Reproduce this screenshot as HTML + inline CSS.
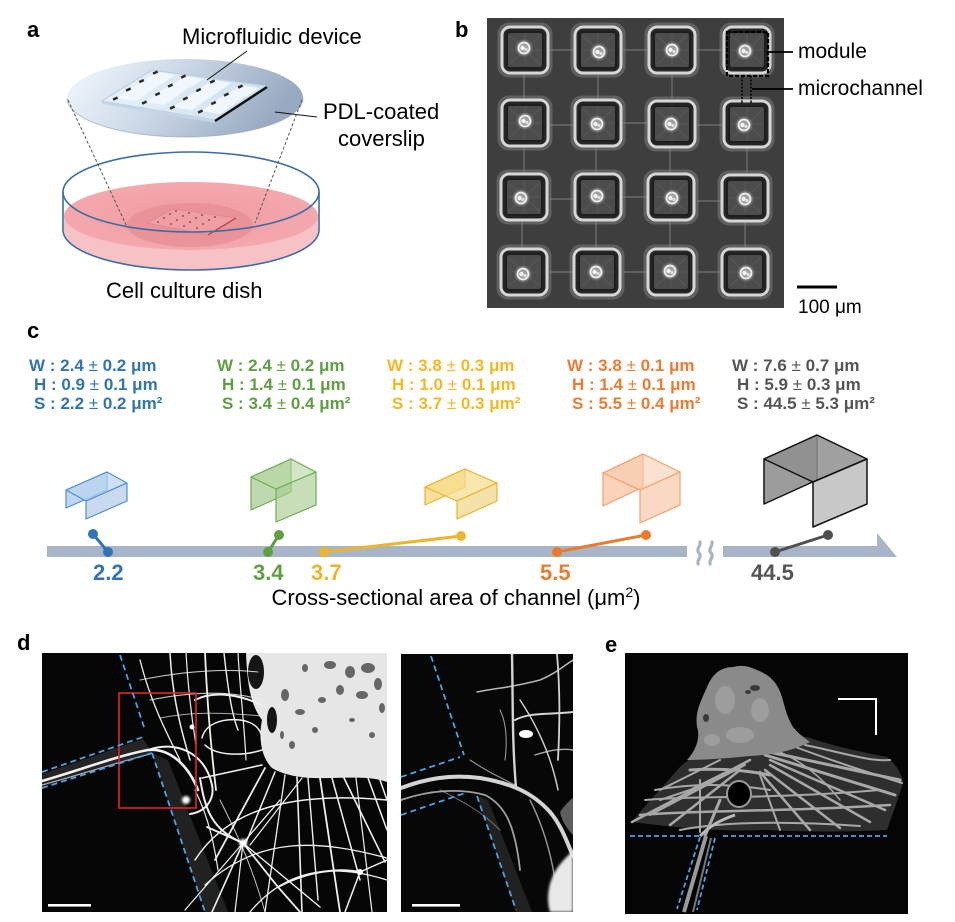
<!DOCTYPE html>
<html><head><meta charset="utf-8">
<style>
html,body{margin:0;padding:0;background:#fff;}
svg{display:block;}
text{font-family:"Liberation Sans",Arial,sans-serif;}
</style></head><body>
<svg width="955" height="922" viewBox="0 0 955 922" xmlns="http://www.w3.org/2000/svg">
<defs>
 <linearGradient id="cs" x1="0" y1="0" x2="1" y2="0.25">
  <stop offset="0" stop-color="#f4f9fe"/>
  <stop offset="0.45" stop-color="#cfdbe9"/>
  <stop offset="1" stop-color="#98a9c1"/>
 </linearGradient>
 <linearGradient id="dev" x1="0" y1="0" x2="1" y2="0">
  <stop offset="0" stop-color="#e6f1fa"/>
  <stop offset="1" stop-color="#cfe0ee"/>
 </linearGradient>
 <radialGradient id="pinkS" cx="0.5" cy="0.5" r="0.6">
  <stop offset="0" stop-color="#f09aa0"/>
  <stop offset="1" stop-color="#f4abb0"/>
 </radialGradient>
 <clipPath id="cb"><rect x="487" y="18" width="297" height="290"/></clipPath>
 <clipPath id="cd1"><rect x="42" y="653" width="345" height="259"/></clipPath>
 <clipPath id="cd2"><rect x="401" y="654" width="172" height="258"/></clipPath>
 <clipPath id="ce"><rect x="625" y="653" width="283" height="261"/></clipPath>
 <filter id="bl1" x="-50%" y="-50%" width="200%" height="200%"><feGaussianBlur stdDeviation="1.2"/></filter>
 <filter id="bl05" x="-50%" y="-50%" width="200%" height="200%"><feGaussianBlur stdDeviation="0.7"/></filter>
 <g id="mod">
  <rect x="-26" y="-26" width="52" height="52" rx="10" fill="none" stroke="#8a8a8a" stroke-width="3" opacity=".45"/>
  <rect x="-23" y="-23" width="46" height="46" rx="8" fill="#262626" stroke="#d6d6d6" stroke-width="3"/>
  <rect x="-18" y="-18" width="36" height="36" rx="3" fill="#4c4c4c" stroke="#1e1e1e" stroke-width="2"/>
  <g stroke="#666" stroke-width="0.7" opacity=".7">
   <line x1="0" y1="0" x2="-15" y2="-14"/><line x1="0" y1="0" x2="15" y2="-14"/>
   <line x1="0" y1="0" x2="-15" y2="14"/><line x1="0" y1="0" x2="15" y2="14"/>
   <line x1="0" y1="0" x2="0" y2="-16"/><line x1="0" y1="0" x2="16" y2="0"/>
   <line x1="0" y1="0" x2="-16" y2="0"/><line x1="0" y1="0" x2="0" y2="16"/>
  </g>
 </g>
 <g id="cell">
  <circle r="8" fill="#7e7e7e" filter="url(#bl05)"/>
  <circle r="5.5" fill="#b8b8b8" opacity=".6"/>
  <circle r="5.5" fill="none" stroke="#eeeeee" stroke-width="1.8"/>
  <circle cx="-1.5" cy="0" r="2.2" fill="#f4f4f4"/>
  <circle cx="2" cy="1.5" r="1.6" fill="#e0e0e0"/>
 </g>
</defs>

<rect width="955" height="922" fill="#ffffff"/>

<!-- ================= PANEL A ================= -->
<text x="27" y="37" font-size="22" font-weight="bold">a</text>
<text x="182" y="44" font-size="22">Microfluidic device</text>
<text x="323" y="119" font-size="22">PDL-coated</text>
<text x="338" y="146" font-size="22">coverslip</text>
<text x="106" y="298" font-size="22">Cell culture dish</text>

<ellipse cx="185" cy="98" rx="118" ry="39" fill="url(#cs)"/>
<path d="M67,98 A118,39 0 0 0 303,98" fill="none" stroke="#8e9fb6" stroke-width="1" opacity=".6"/>
<polygon points="102,101 152,70 267,86 215,120" fill="url(#dev)" stroke="#b9cde0" stroke-width="1"/>
<polygon points="102,101 215,120 215,123 102,104" fill="#c4d6e6"/>
<g fill="#f4f9fd" opacity=".9">
 <polygon points="117,98 131,89 149,92 136,101"/><polygon points="145,102 159,93 177,96 164,105"/>
 <polygon points="173,107 187,98 205,101 192,110"/><polygon points="201,111 215,102 233,105 220,114"/>
 <polygon points="130,89 144,80 162,83 149,92"/><polygon points="158,93 172,84 190,87 177,96"/>
 <polygon points="186,98 200,89 218,92 205,101"/><polygon points="214,102 228,93 246,96 233,105"/>
 <polygon points="143,81 157,72 175,75 162,84"/><polygon points="171,85 185,76 203,79 190,88"/>
 <polygon points="199,89 213,80 231,83 218,92"/><polygon points="227,94 241,85 259,88 246,97"/>
</g>
<g fill="#2a2a2a">
 <rect x="113" y="97.5" width="5" height="2.5" transform="rotate(-25 115 99)"/>
 <rect x="142" y="101.5" width="5" height="2.5" transform="rotate(-25 144 103)"/>
 <rect x="170" y="106.5" width="5" height="2.5" transform="rotate(-25 172 108)"/>
 <rect x="198" y="110.5" width="5" height="2.5" transform="rotate(-25 200 112)"/>
 <rect x="126" y="88.5" width="5" height="2.5" transform="rotate(-25 128 90)"/>
 <rect x="155" y="93" width="5" height="2.5" transform="rotate(-25 157 94)"/>
 <rect x="183" y="97.5" width="5" height="2.5" transform="rotate(-25 185 99)"/>
 <rect x="211" y="102" width="5" height="2.5" transform="rotate(-25 213 103)"/>
 <rect x="139" y="80" width="5" height="2.5" transform="rotate(-25 141 81)"/>
 <rect x="168" y="84.5" width="5" height="2.5" transform="rotate(-25 170 86)"/>
 <rect x="196" y="89" width="5" height="2.5" transform="rotate(-25 198 90)"/>
 <rect x="224" y="93.5" width="5" height="2.5" transform="rotate(-25 226 95)"/>
 <rect x="153" y="71.5" width="5" height="2.5" transform="rotate(-25 155 73)"/>
 <rect x="181" y="75.5" width="5" height="2.5" transform="rotate(-25 183 77)"/>
 <rect x="210" y="80.5" width="5" height="2.5" transform="rotate(-25 212 82)"/>
 <rect x="238" y="85.5" width="5" height="2.5" transform="rotate(-25 240 87)"/>
</g>
<line x1="215" y1="121" x2="267" y2="87" stroke="#111" stroke-width="2.5"/>
<line x1="247" y1="51" x2="207" y2="80" stroke="#111" stroke-width="1"/>
<line x1="275" y1="112" x2="317" y2="117" stroke="#111" stroke-width="1"/>

<path d="M64,216 L64,230 A127,40 0 0 0 318,230 L318,216 A127,34 0 0 1 64,216 Z" fill="#f6c2c5"/>
<ellipse cx="191" cy="216" rx="127" ry="34" fill="url(#pinkS)"/>
<ellipse cx="190" cy="225" rx="63" ry="22" fill="#e68d94" opacity=".75"/>
<polygon points="147,223 173,209 236,218 208,235" fill="#ef9fa4" stroke="#d98087" stroke-width="0.6"/>
<g fill="#a84a52">
 <circle cx="158" cy="222" r="1"/><circle cx="171" cy="224" r="1"/><circle cx="184" cy="226" r="1"/><circle cx="197" cy="228" r="1"/>
 <circle cx="164" cy="218" r="1"/><circle cx="177" cy="220" r="1"/><circle cx="190" cy="222" r="1"/><circle cx="203" cy="224" r="1"/>
 <circle cx="170" cy="214" r="1"/><circle cx="183" cy="216" r="1"/><circle cx="196" cy="218" r="1"/><circle cx="209" cy="220" r="1"/>
 <circle cx="176" cy="211" r="1"/><circle cx="189" cy="213" r="1"/><circle cx="202" cy="215" r="1"/><circle cx="215" cy="217" r="1"/>
</g>
<line x1="208" y1="235" x2="236" y2="218" stroke="#b0404a" stroke-width="1.3"/>
<ellipse cx="191" cy="192" rx="128" ry="40" fill="none" stroke="#3a6ca6" stroke-width="1.6"/>
<line x1="63" y1="192" x2="63" y2="230" stroke="#3a6ca6" stroke-width="1.6"/>
<line x1="319" y1="192" x2="319" y2="230" stroke="#3a6ca6" stroke-width="1.6"/>
<path d="M63,230 A128,40 0 0 0 319,230" fill="none" stroke="#3a6ca6" stroke-width="1.6"/>
<line x1="68" y1="100" x2="127" y2="227" stroke="#555" stroke-width="1" stroke-dasharray="3,2"/>
<line x1="302" y1="100" x2="255" y2="223" stroke="#555" stroke-width="1" stroke-dasharray="3,2"/>

<!-- ================= PANEL B ================= -->
<text x="455" y="37" font-size="22" font-weight="bold">b</text>
<g clip-path="url(#cb)">
 <rect x="487" y="18" width="297" height="290" fill="#3e3e3e"/>
 <g stroke="#a0a0a0" stroke-width="1" opacity=".65">
  <line x1="550" y1="50" x2="573" y2="50"/><line x1="623" y1="50" x2="647" y2="50"/><line x1="697" y1="50" x2="722" y2="50"/>
  <line x1="550" y1="125" x2="573" y2="125"/><line x1="623" y1="123" x2="647" y2="123"/><line x1="697" y1="125" x2="722" y2="125"/>
  <line x1="550" y1="199" x2="573" y2="199"/><line x1="623" y1="197" x2="647" y2="197"/><line x1="697" y1="201" x2="722" y2="201"/>
  <line x1="550" y1="272" x2="573" y2="272"/><line x1="623" y1="272" x2="647" y2="272"/><line x1="697" y1="272" x2="722" y2="272"/>
  <line x1="524" y1="75" x2="524" y2="98"/><line x1="598" y1="75" x2="598" y2="98"/><line x1="672" y1="75" x2="672" y2="98"/>
  <line x1="524" y1="148" x2="524" y2="172"/><line x1="596" y1="148" x2="596" y2="172"/><line x1="670" y1="148" x2="670" y2="172"/><line x1="747" y1="148" x2="747" y2="172"/>
  <line x1="522" y1="222" x2="522" y2="247"/><line x1="596" y1="222" x2="596" y2="247"/><line x1="670" y1="222" x2="670" y2="247"/><line x1="745" y1="222" x2="745" y2="247"/>
 </g>
 <use href="#mod" x="525" y="50"/><use href="#mod" x="598" y="50"/><use href="#mod" x="672" y="50"/><use href="#mod" x="747" y="50"/>
 <use href="#mod" x="525" y="123"/><use href="#mod" x="598" y="123"/><use href="#mod" x="672" y="124"/><use href="#mod" x="747" y="124"/>
 <use href="#mod" x="524" y="197"/><use href="#mod" x="598" y="197"/><use href="#mod" x="671" y="197"/><use href="#mod" x="745" y="198"/>
 <use href="#mod" x="524" y="272"/><use href="#mod" x="597" y="272"/><use href="#mod" x="671" y="272"/><use href="#mod" x="745" y="272"/>
 <use href="#cell" x="524" y="48"/><use href="#cell" x="599" y="52"/><use href="#cell" x="672" y="50"/><use href="#cell" x="745" y="51"/>
 <use href="#cell" x="525" y="121"/><use href="#cell" x="597" y="124"/><use href="#cell" x="671" y="124"/><use href="#cell" x="744" y="125"/>
 <use href="#cell" x="521" y="198"/><use href="#cell" x="597" y="196"/><use href="#cell" x="672" y="198"/><use href="#cell" x="745" y="199"/>
 <use href="#cell" x="523" y="274"/><use href="#cell" x="596" y="272"/><use href="#cell" x="670" y="271"/><use href="#cell" x="746" y="273"/>
</g>
<rect x="727" y="32" width="41" height="44" fill="none" stroke="#000" stroke-width="2.2" stroke-dasharray="4,2"/>
<line x1="742" y1="76" x2="742" y2="103" stroke="#000" stroke-width="1.5" stroke-dasharray="2,1.5"/>
<line x1="751" y1="76" x2="751" y2="103" stroke="#000" stroke-width="1.5" stroke-dasharray="2,1.5"/>
<line x1="768" y1="52" x2="793" y2="52" stroke="#000" stroke-width="1.8"/>
<line x1="752" y1="89" x2="793" y2="89" stroke="#000" stroke-width="1.8"/>
<text x="798" y="58" font-size="21">module</text>
<text x="798" y="95" font-size="21">microchannel</text>
<rect x="797" y="285.5" width="40" height="3" fill="#000"/>
<text x="798" y="313" font-size="19">100 μm</text>

<!-- ================= PANEL C ================= -->
<text x="27" y="338" font-size="22" font-weight="bold">c</text>
<g font-size="17" font-weight="bold">
 <g fill="#2f74b5">
  <text x="29" y="371">W : 2.4 <tspan font-weight="normal">±</tspan> 0.2 μm</text>
  <text x="34" y="390">H : 0.9 <tspan font-weight="normal">±</tspan> 0.1 μm</text>
  <text x="34" y="409">S : 2.2 <tspan font-weight="normal">±</tspan> 0.2 μm²</text>
 </g>
 <g fill="#5e9f3f">
  <text x="217" y="371">W : 2.4 <tspan font-weight="normal">±</tspan> 0.2 μm</text>
  <text x="222" y="390">H : 1.4 <tspan font-weight="normal">±</tspan> 0.1 μm</text>
  <text x="222" y="409">S : 3.4 <tspan font-weight="normal">±</tspan> 0.4 μm²</text>
 </g>
 <g fill="#f6b820">
  <text x="387" y="371">W : 3.8 <tspan font-weight="normal">±</tspan> 0.3 μm</text>
  <text x="392" y="390">H : 1.0 <tspan font-weight="normal">±</tspan> 0.1 μm</text>
  <text x="392" y="409">S : 3.7 <tspan font-weight="normal">±</tspan> 0.3 μm²</text>
 </g>
 <g fill="#ef7a32">
  <text x="567" y="371">W : 3.8 <tspan font-weight="normal">±</tspan> 0.1 μm</text>
  <text x="572" y="390">H : 1.4 <tspan font-weight="normal">±</tspan> 0.1 μm</text>
  <text x="572" y="409">S : 5.5 <tspan font-weight="normal">±</tspan> 0.4 μm²</text>
 </g>
 <g fill="#555555">
  <text x="732" y="371">W : 7.6 <tspan font-weight="normal">±</tspan> 0.7 μm</text>
  <text x="737" y="390">H : 5.9 <tspan font-weight="normal">±</tspan> 0.3 μm</text>
  <text x="737" y="409">S : 44.5 <tspan font-weight="normal">±</tspan> 5.3 μm²</text>
 </g>
</g>

<g stroke="#4f8fd4" stroke-width="1.2" stroke-linejoin="round">
 <polygon points="66,490 107,472 107,490 66,508" fill="#8db3e0" fill-opacity=".55"/>
 <polygon points="66,490 107,472 127,483 86,501" fill="#b9d4ef" fill-opacity=".7"/>
 <polygon points="86,501 127,483 127,501 86,519" fill="#a6c2e3" fill-opacity=".6"/>
</g>
<g stroke="#6eae52" stroke-width="1.2" stroke-linejoin="round">
 <polygon points="251,477 291,459 291,492 251,510" fill="#93c079" fill-opacity=".6"/>
 <polygon points="251,477 291,459 316,472 276,489" fill="#b6d6a2" fill-opacity=".6"/>
 <polygon points="276,489 316,472 316,505 276,522" fill="#a9cc93" fill-opacity=".65"/>
</g>
<g stroke="#e9b52d" stroke-width="1.2" stroke-linejoin="round">
 <polygon points="425,487 465,469 465,487 425,505" fill="#f1cc5c" fill-opacity=".6"/>
 <polygon points="425,487 465,469 497,483 457,501" fill="#f8dd8a" fill-opacity=".7"/>
 <polygon points="457,501 497,483 497,501 457,519" fill="#f0d27a" fill-opacity=".65"/>
</g>
<g stroke="#f4a06e" stroke-width="1.2" stroke-linejoin="round">
 <polygon points="603,473 643,454 643,487 603,506" fill="#f6b58c" fill-opacity=".6"/>
 <polygon points="603,473 643,454 680,472 640,490" fill="#f9cdb0" fill-opacity=".6"/>
 <polygon points="640,490 680,472 680,505 640,523" fill="#f8c5a4" fill-opacity=".65"/>
</g>
<g stroke="#111" stroke-width="1.5" stroke-linejoin="round">
 <polygon points="764,459 817,435 817,480 764,504" fill="#9c9c9c"/>
 <polygon points="764,459 817,435 867,459 813,482" fill="#8f8f8f" fill-opacity=".85"/>
 <polygon points="813,482 867,459 867,504 813,527" fill="#c8c8c8"/>
</g>

<rect x="47" y="546" width="640" height="11" fill="#a8b4c7"/>
<polygon points="723,546 877,546 877,533 897,557 723,557" fill="#a8b4c7"/>
<path d="M699,541 c4,3 -4,8 0,12 c4,4 -4,8 0,12" fill="none" stroke="#a8b4c7" stroke-width="3.2"/>
<path d="M711,541 c4,3 -4,8 0,12 c4,4 -4,8 0,12" fill="none" stroke="#a8b4c7" stroke-width="3.2"/>

<g stroke-width="3">
 <line x1="93" y1="534" x2="108" y2="552" stroke="#2f74b5"/>
 <line x1="279" y1="535" x2="268" y2="552" stroke="#5e9f3f"/>
 <line x1="324" y1="552" x2="461" y2="536" stroke="#ecb52a"/>
 <line x1="557" y1="552" x2="646" y2="535" stroke="#ea7b2c"/>
 <line x1="775" y1="552" x2="828" y2="535" stroke="#4f4f4f"/>
</g>
<circle cx="93" cy="534" r="5" fill="#2f74b5"/><circle cx="108" cy="552" r="5" fill="#2f74b5"/>
<circle cx="279" cy="535" r="5" fill="#5e9f3f"/><circle cx="268" cy="552" r="5" fill="#5e9f3f"/>
<circle cx="324" cy="552" r="5" fill="#ecb52a"/><circle cx="461" cy="536" r="5" fill="#ecb52a"/>
<circle cx="557" cy="552" r="5" fill="#ea7b2c"/><circle cx="646" cy="535" r="5" fill="#ea7b2c"/>
<circle cx="775" cy="552" r="5" fill="#4f4f4f"/><circle cx="828" cy="535" r="5" fill="#4f4f4f"/>

<g font-size="22" font-weight="bold">
 <text x="93" y="580" fill="#2f74b5">2.2</text>
 <text x="253" y="580" fill="#5e9f3f">3.4</text>
 <text x="311" y="580" fill="#ecb52a">3.7</text>
 <text x="540" y="580" fill="#ea7b2c">5.5</text>
 <text x="751" y="580" fill="#555">44.5</text>
</g>
<text x="456" y="605" font-size="22" text-anchor="middle">Cross-sectional area of channel (μm<tspan font-size="14" dy="-8">2</tspan><tspan dy="8">)</tspan></text>

<!-- ================= PANEL D ================= -->
<text x="17" y="650" font-size="22" font-weight="bold">d</text>
<g clip-path="url(#cd1)">
 <rect x="42" y="653" width="345" height="259" fill="#060606"/>
 <path d="M152,753 L205,912 L228,912 L168,760 Z" fill="#555" opacity=".35"/>
 <path d="M42,774 L143,739 L152,752 L42,787 Z" fill="#3a3a3a" opacity=".6"/>
 <path d="M246,653 L387,653 L387,782 C370,776 350,778 330,778 C305,779 285,776 272,768 C262,758 258,740 262,720 C250,705 247,680 246,653 Z" fill="#e6e6e6"/>
 <g fill="#151515">
  <ellipse cx="256" cy="672" rx="8" ry="17"/>
  <ellipse cx="272" cy="720" rx="5" ry="13"/>
 </g>
 <g fill="#666">
  <ellipse cx="330" cy="665" rx="6" ry="4"/><ellipse cx="350" cy="672" rx="5" ry="6"/>
  <ellipse cx="368" cy="668" rx="7" ry="5"/><ellipse cx="340" cy="690" rx="4" ry="5"/>
  <ellipse cx="362" cy="695" rx="6" ry="4"/><ellipse cx="378" cy="684" rx="4" ry="6"/>
  <ellipse cx="322" cy="700" rx="4" ry="3"/><ellipse cx="300" cy="712" rx="5" ry="3"/>
  <ellipse cx="285" cy="695" rx="4" ry="6"/><ellipse cx="315" cy="730" rx="3" ry="3"/>
  <ellipse cx="382" cy="708" rx="3" ry="5"/><ellipse cx="292" cy="745" rx="3" ry="4"/>
  <ellipse cx="352" cy="720" rx="3" ry="2"/><ellipse cx="372" cy="735" rx="3" ry="3"/>
  <ellipse cx="305" cy="668" rx="3" ry="4"/><ellipse cx="282" cy="735" rx="2" ry="4"/>
 </g>
 <g fill="none" stroke="#f0f0f0" stroke-linecap="round">
  <path d="M42,781 C80,770 120,755 148,750 C170,748 188,765 198,790" stroke-width="2.6"/>
  <path d="M42,785 C90,772 125,760 150,754" stroke-width="1.2" opacity=".7"/>
  <path d="M148,750 C175,740 205,752 212,785 C215,800 205,812 190,814" stroke-width="2"/>
  <path d="M202,738 C205,725 220,718 240,720 C255,722 262,730 262,740" stroke-width="1.5"/>
  <path d="M205,745 C215,755 240,757 262,750" stroke-width="1.5"/>
  <path d="M140,660 C150,700 165,730 180,760" stroke-width="1.3"/>
  <path d="M170,653 C172,690 178,720 190,760" stroke-width="1.5"/>
  <path d="M186,653 C188,690 192,720 196,745" stroke-width="1.2"/>
  <path d="M205,653 C207,700 210,740 216,790" stroke-width="1.8"/>
  <path d="M224,653 C228,690 232,715 238,730" stroke-width="1.4"/>
  <path d="M238,653 C240,690 244,720 246,760" stroke-width="1.2"/>
  <path d="M140,680 C180,672 220,668 258,672" stroke-width="1.1" opacity=".8"/>
  <path d="M150,700 C190,692 230,690 262,700" stroke-width="1.1" opacity=".8"/>
  <path d="M160,718 C190,712 220,712 262,716" stroke-width="1" opacity=".7"/>
  <path d="M195,700 C215,690 240,695 262,705" stroke-width="2"/>
  <path d="M265,768 L215,860" stroke-width="1.8"/>
  <path d="M275,772 L245,845" stroke-width="1.5"/>
  <path d="M285,775 L265,912" stroke-width="1.3"/>
  <path d="M297,777 L302,912" stroke-width="1.6"/>
  <path d="M308,778 L318,900" stroke-width="1.4"/>
  <path d="M320,778 L340,912" stroke-width="1.8"/>
  <path d="M332,778 L360,880" stroke-width="1.5"/>
  <path d="M344,778 L385,862" stroke-width="1.6"/>
  <path d="M356,778 L372,912" stroke-width="1.2"/>
  <path d="M368,778 L387,830" stroke-width="1.5"/>
  <path d="M380,780 L387,800" stroke-width="1.5"/>
  <path d="M302,778 L250,845" stroke-width="1.2"/>
  <path d="M262,765 L202,778" stroke-width="1.6"/>
  <path d="M243,843 L212,912" stroke-width="1.6"/>
  <path d="M243,843 L278,887 L300,912" stroke-width="1.8"/>
  <path d="M243,843 L320,907" stroke-width="1.4"/>
  <path d="M243,843 L207,827" stroke-width="1.8"/>
  <path d="M243,843 L185,910" stroke-width="1.2"/>
  <path d="M243,843 L235,912" stroke-width="1.2"/>
  <path d="M243,843 L280,800" stroke-width="1.3"/>
  <path d="M200,778 C205,810 212,830 243,843" stroke-width="2"/>
  <path d="M195,860 C230,805 300,792 387,800" stroke-width="1.5"/>
  <path d="M205,885 C260,835 320,840 387,858" stroke-width="1.3"/>
  <path d="M250,912 C285,870 330,862 387,880" stroke-width="1.3"/>
  <path d="M278,887 C310,870 340,868 360,872" stroke-width="2"/>
  <path d="M360,872 L387,860" stroke-width="1.5"/>
  <path d="M360,872 L345,912" stroke-width="1.5"/>
  <path d="M220,800 C235,830 250,860 265,912" stroke-width="1" opacity=".8"/>
  <path d="M195,790 C210,820 215,850 218,870" stroke-width="1.2"/>
 </g>
 <circle cx="243" cy="843" r="4" fill="#fff" filter="url(#bl1)"/>
 <circle cx="360" cy="872" r="3" fill="#fff"/>
 <circle cx="186" cy="800" r="4" fill="#fff" filter="url(#bl1)"/>
 <circle cx="192" cy="727" r="2.5" fill="#fff"/>
</g>
<rect x="119" y="693" width="77" height="115" fill="none" stroke="#e3262a" stroke-width="1.6"/>
<g stroke="#4aa3e8" stroke-width="1.8" stroke-dasharray="6,4" fill="none">
 <line x1="120" y1="655" x2="145" y2="730"/>
 <line x1="42" y1="772" x2="143" y2="737"/>
 <line x1="42" y1="788" x2="152" y2="753"/>
 <line x1="152" y1="753" x2="205" y2="912"/>
</g>
<rect x="48" y="904" width="43" height="2.6" fill="#fff"/>

<g clip-path="url(#cd2)">
 <rect x="401" y="654" width="172" height="258" fill="#070707"/>
 <path d="M477,796 L516,912 L532,912 L488,800 Z" fill="#3c3c3c" opacity=".5"/>
 <g fill="none" stroke="#d4d4d4" stroke-linecap="round">
  <path d="M401,788 C425,779 450,774 480,778 C510,783 532,792 550,812 C562,826 568,845 573,856" stroke-width="4"/>
  <path d="M401,800 C430,790 460,788 485,795 C505,805 515,825 520,870" stroke-width="1.8" opacity=".75"/>
  <path d="M512,654 C513,700 512,740 516,788" stroke-width="2.4"/>
  <path d="M557,654 C560,690 560,720 558,760" stroke-width="1.8"/>
  <path d="M477,692 C495,688 510,688 540,680 C555,674 565,665 573,660" stroke-width="1.6" opacity=".85"/>
  <path d="M515,720 C530,712 548,715 573,712" stroke-width="2"/>
  <path d="M520,700 C540,730 552,760 558,790" stroke-width="1.4"/>
  <path d="M500,710 C505,720 508,735 505,760" stroke-width="1.1" opacity=".7"/>
  <path d="M535,755 C550,750 562,748 573,750" stroke-width="1.4" opacity=".8"/>
  <path d="M440,790 C460,800 480,810 500,830" stroke-width="1" opacity=".5"/>
  <path d="M470,760 C485,770 495,775 515,785" stroke-width="1.1" opacity=".7"/>
  <path d="M530,800 C545,830 552,860 555,880" stroke-width="1.4" opacity=".7"/>
 </g>
 <ellipse cx="526" cy="734" rx="7" ry="4" fill="#fff"/>
 <path d="M550,912 C545,895 550,875 562,862 C567,856 573,852 573,848 L573,912 Z" fill="#e8e8e8" filter="url(#bl1)"/>
 <path d="M560,812 C565,805 570,800 573,798 L573,835 C568,830 562,822 560,812 Z" fill="#9a9a9a" opacity=".6"/>
</g>
<g stroke="#4aa3e8" stroke-width="1.8" stroke-dasharray="6,4" fill="none">
 <line x1="431" y1="656" x2="464" y2="755"/>
 <line x1="401" y1="777" x2="460" y2="757"/>
 <line x1="401" y1="815" x2="465" y2="793"/>
 <line x1="477" y1="796" x2="516" y2="910"/>
</g>
<rect x="412" y="904" width="48" height="2.6" fill="#fff"/>

<!-- ================= PANEL E ================= -->
<text x="605" y="652" font-size="22" font-weight="bold">e</text>
<g clip-path="url(#ce)">
 <rect x="625" y="653" width="283" height="261" fill="#050505"/>
 <path d="M632,822 C645,805 660,790 680,767 C690,758 700,752 720,748 C760,740 790,735 807,737 C830,745 860,752 887,757 C897,765 902,775 903,783 C898,800 892,815 887,830 C850,832 800,832 767,830 C720,832 680,828 632,822 Z" fill="#2e2e2e"/>
 <g fill="none" stroke="#a8a8a8" stroke-linecap="round">
  <path d="M760,750 L900,780" stroke-width="3"/>
  <path d="M765,755 L895,795" stroke-width="3"/>
  <path d="M770,760 L885,810" stroke-width="2.5"/>
  <path d="M770,765 L870,822" stroke-width="2.5"/>
  <path d="M765,770 L840,828" stroke-width="2.5"/>
  <path d="M760,772 L810,830" stroke-width="2.5"/>
  <path d="M790,745 C830,760 860,770 902,783" stroke-width="2"/>
  <path d="M805,745 C840,752 870,762 890,760" stroke-width="2"/>
  <path d="M750,760 L632,822" stroke-width="2.5"/>
  <path d="M745,765 L650,815" stroke-width="2"/>
  <path d="M740,770 L670,825" stroke-width="2.5"/>
  <path d="M730,770 L690,790 L660,800" stroke-width="2"/>
  <path d="M720,760 L660,790" stroke-width="2"/>
  <path d="M700,780 L700,832" stroke-width="2"/>
  <path d="M640,815 C700,810 780,812 890,805" stroke-width="2.5"/>
  <path d="M645,800 C700,795 760,800 880,790" stroke-width="2"/>
  <path d="M655,790 C700,782 740,785 770,790" stroke-width="2"/>
  <path d="M680,830 C730,820 800,822 860,826" stroke-width="2"/>
  <path d="M760,775 L780,830" stroke-width="2"/>
  <path d="M720,800 L705,836" stroke-width="3"/>
  <path d="M690,770 C720,768 745,770 770,775" stroke-width="3"/>
  <path d="M775,750 C800,760 820,775 840,800" stroke-width="1.5"/>
 </g>
 <path d="M687,760 C698,748 700,735 697,727 C695,712 700,703 707,687 C712,675 720,667 733,667 C745,664 752,668 757,670 C770,675 778,683 782,697 C785,708 787,717 793,727 C798,733 803,737 810,742 C790,752 770,755 750,756 C730,758 705,760 687,760 Z" fill="#8a8a8a"/>
 <g fill="#a4a4a4" opacity=".75">
  <ellipse cx="725" cy="700" rx="10" ry="14"/><ellipse cx="760" cy="710" rx="9" ry="12"/>
  <ellipse cx="740" cy="735" rx="14" ry="8"/><ellipse cx="712" cy="740" rx="8" ry="6"/>
 </g>
 <g fill="#3a3a3a">
  <ellipse cx="755" cy="688" rx="5" ry="3"/><ellipse cx="748" cy="692" rx="3" ry="2"/>
  <ellipse cx="706" cy="718" rx="3" ry="4"/>
 </g>
 <ellipse cx="739" cy="794" rx="12" ry="13" fill="#000" stroke="#999" stroke-width="2"/>
 <path d="M706,836 L684,912" stroke="#9a9a9a" stroke-width="4" fill="none"/>
 <path d="M711,838 L693,912" stroke="#777" stroke-width="2" fill="none"/>
 <path d="M700,836 C710,826 720,820 735,815" stroke="#bbb" stroke-width="3" fill="none"/>
</g>
<path d="M838,699 L876,699 L876,735" fill="none" stroke="#fff" stroke-width="2"/>
<g stroke="#4aa3e8" stroke-width="1.8" stroke-dasharray="5,3" fill="none">
 <line x1="630" y1="836" x2="700" y2="836"/>
 <line x1="723" y1="836" x2="887" y2="836"/>
 <line x1="700" y1="837" x2="677" y2="909"/>
 <line x1="715" y1="838" x2="697" y2="910"/>
</g>
</svg>
</body></html>
